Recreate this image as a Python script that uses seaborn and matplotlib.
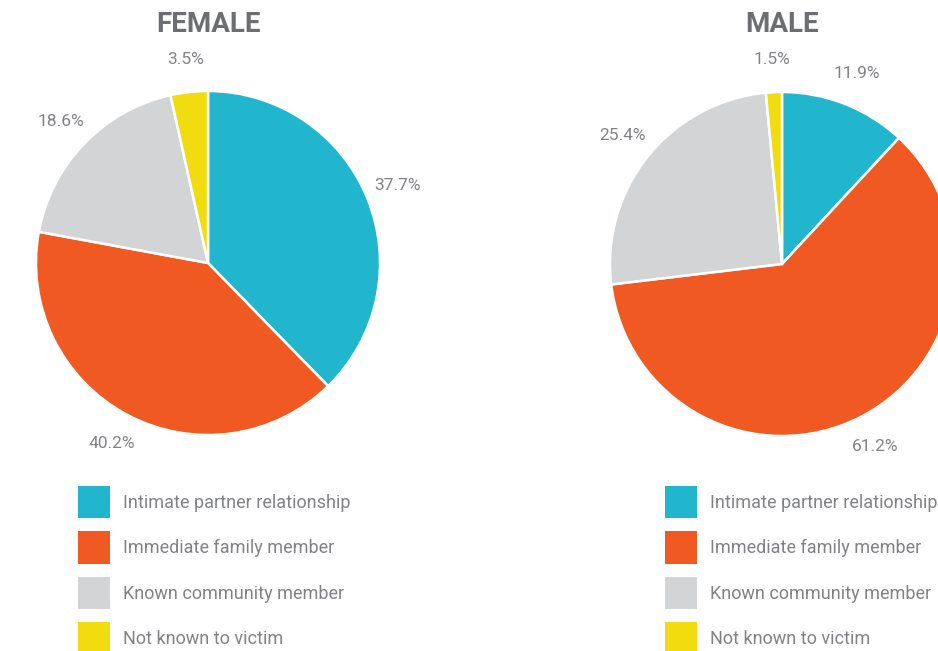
import matplotlib
matplotlib.use("Agg")
import matplotlib.pyplot as plt
import seaborn as sns

# Datos de las dos gráficas de pastel
categorias = ["Intimate partner relationship", "Immediate family member",
              "Known community member", "Not known to victim"]
mujeres = [37.7, 40.2, 18.6, 3.5]
hombres = [11.9, 61.2, 25.4, 1.5]
titulos = ["FEMALE", "MALE"]

colores = sns.color_palette(["#21B5CE", "#F05A22", "#D3D4D6", "#F1DC0F"])
gris_texto = "#808285"
gris_titulo = "#6D6E71"

sns.set_theme(style="white")
plt.rcParams['font.family'] = ['Roboto', 'DejaVu Sans']

W, H = 938, 651
fig = plt.figure(figsize=(W / 100, H / 100), dpi=100)
fig.patch.set_facecolor("white")


def caja(cx, cy, r):
    # Convierte centro y radio en pixeles a coordenadas de figura
    return [(cx - r) / W, 1 - (cy + r) / H, 2 * r / W, 2 * r / H]


def pastel(valores, titulo, cx, cy, r, leg_x, leg_y):
    ax = fig.add_axes(caja(cx, cy, r))
    wedges, _, autotexts = ax.pie(
        valores, colors=colores, startangle=90, counterclock=False,
        autopct=lambda p: f"{p:.1f}%", pctdistance=1.19,
        wedgeprops=dict(edgecolor="white", linewidth=1.8),
        textprops=dict(color=gris_texto, fontsize=12.5))
    for t in autotexts:
        t.set_clip_on(False)
    ax.set_xlim(-1, 1)
    ax.set_ylim(-1, 1)
    ax.set_aspect("equal", adjustable="box")
    ax.axis("off")
    fig.text(cx / W, 1 - 24 / H, titulo, ha="center", va="center",
             fontsize=20, fontweight="bold", color=gris_titulo)
    leg = fig.legend(wedges, categorias, loc="upper left",
                     bbox_to_anchor=(leg_x / W, 1 - leg_y / H),
                     frameon=False, borderpad=0,
                     handlelength=1.78, handleheight=2.37,
                     labelspacing=0.73, handletextpad=0.7, borderaxespad=0,
                     prop=dict(size=13))
    for t in leg.get_texts():
        t.set_color(gris_texto)
    for h in leg.legend_handles:
        h.set_edgecolor("none")
    return ax


pastel(mujeres, titulos[0], 208, 263, 172, 78, 486)
pastel(hombres, titulos[1], 782, 264, 172, 665, 486)

fig.savefig("out.png", dpi=100, facecolor="white")
